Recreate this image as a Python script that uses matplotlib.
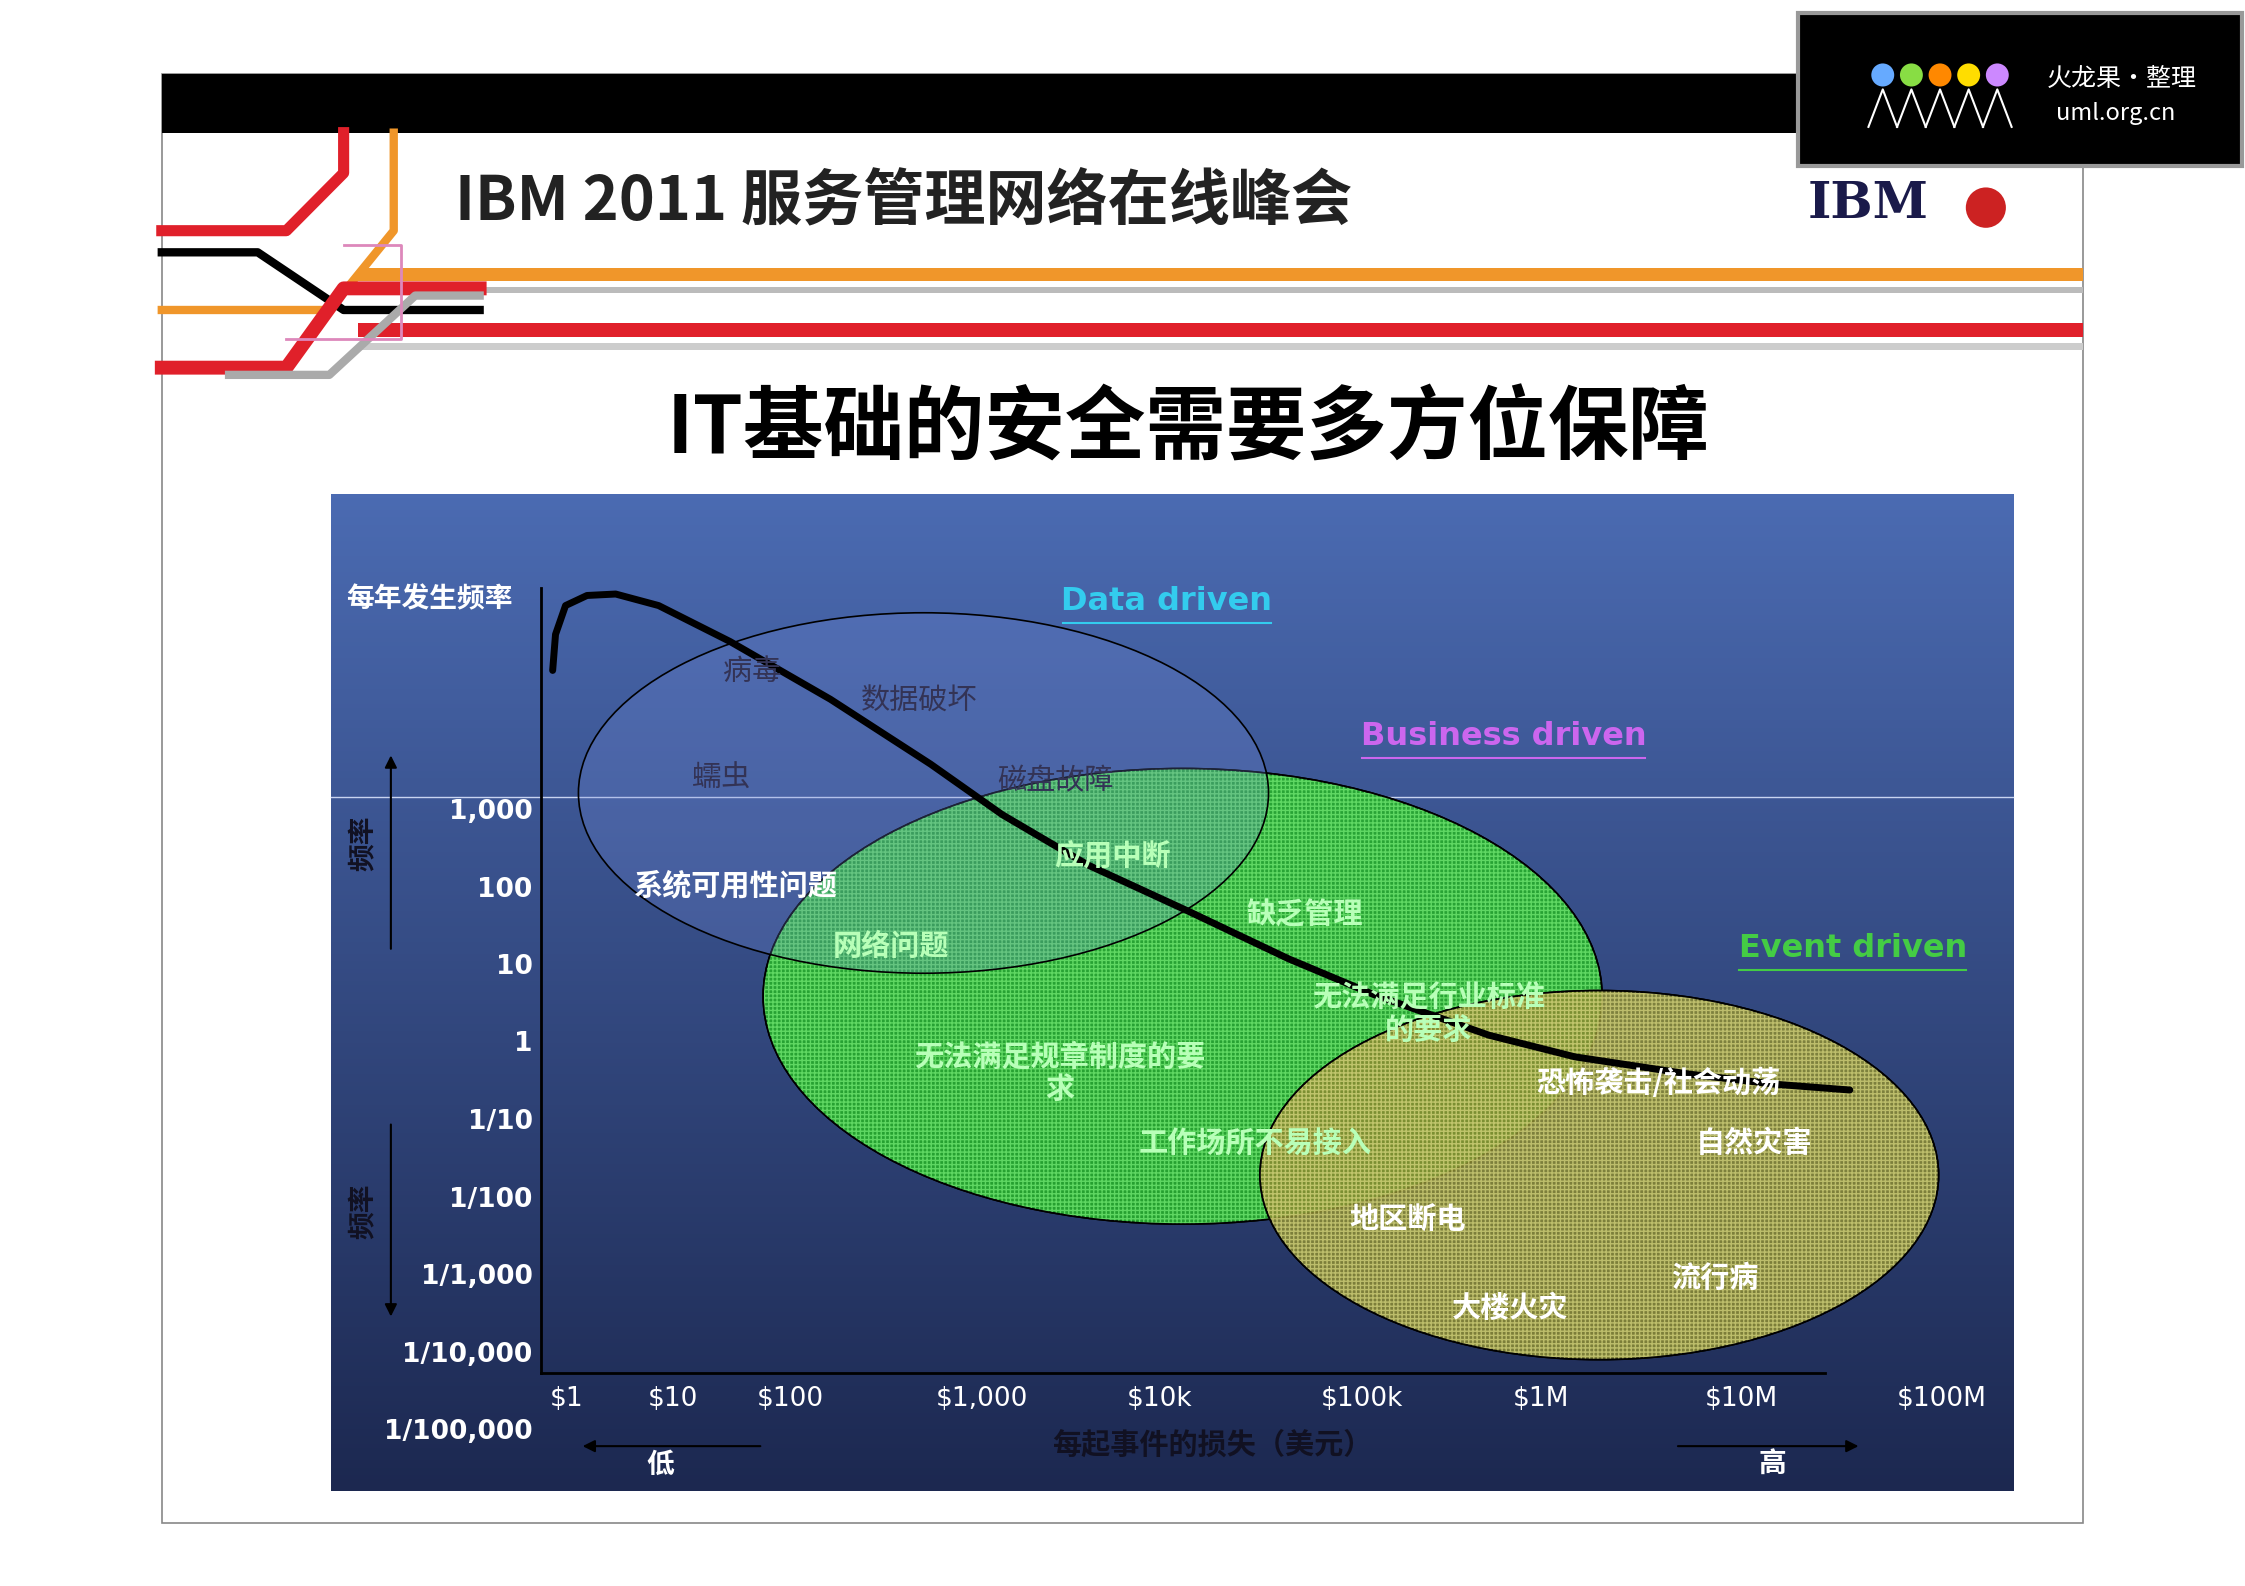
import numpy as np
import matplotlib
matplotlib.use("Agg")
import matplotlib.pyplot as plt
from matplotlib.patches import Ellipse, Rectangle

plt.rcParams['font.family'] = ['Noto Sans CJK SC', 'DejaVu Sans']

# ---- data (in slide pixel coordinates of the chart panel) ----
y_tick_labels = ["1,000", "100", "10", "1", "1/10", "1/100", "1/1,000", "1/10,000", "1/100,000"]
y_tick_pos = [563, 617, 671, 724, 778, 832, 886, 940, 993]
x_tick_labels = ["$1", "$10", "$100", "$1,000", "$10k", "$100k", "$1M", "$10M", "$100M"]
x_tick_pos = [396, 470, 552, 686, 810, 951, 1076, 1216, 1356]
curve_x = [386, 388, 395, 410, 430, 460, 510, 580, 650, 700, 760, 830, 900, 960, 1040, 1100, 1180, 1240, 1292]
curve_y = [465, 440, 420, 413, 412, 420, 445, 485, 530, 565, 600, 632, 665, 690, 718, 733, 745, 752, 756]
regions = ["Data driven", "Business driven", "Event driven"]
region_centers = [(645, 550), (826, 691), (1117, 815)]
region_sizes = [(482, 250), (586, 316), (474, 256)]
risk_labels = [("病毒", 525, 466, '#333355', 'normal'), ("数据破坏", 642, 487, '#333355', 'normal'),
               ("蠕虫", 504, 540, '#333355', 'normal'), ("磁盘故障", 737, 542, '#333355', 'normal'),
               ("系统可用性问题", 514, 614, 'white', 'bold'), ("应用中断", 777, 593, '#b8ffb8', 'bold'),
               ("网络问题", 622, 656, '#b8ffb8', 'bold'), ("缺乏管理", 911, 634, '#b8ffb8', 'bold'),
               ("无法满足行业标准\n的要求", 998, 703, '#b8ffb8', 'bold'),
               ("无法满足规章制度的要\n求", 740, 744, '#b8ffb8', 'bold'),
               ("恐怖袭击/社会动荡", 1158, 751, 'white', 'bold'), ("工作场所不易接入", 877, 793, '#b8ffb8', 'bold'),
               ("自然灾害", 1225, 793, 'white', 'bold'), ("地区断电", 983, 846, 'white', 'bold'),
               ("流行病", 1198, 886, 'white', 'bold'), ("大楼火灾", 1055, 907, 'white', 'bold')]

fig = plt.figure(figsize=(22.45, 15.86), dpi=100)
ax = fig.add_axes([0, 0, 1, 1])
ax.set_xlim(0, 1568); ax.set_ylim(1100, 0); ax.axis('off')

# slide frame
ax.add_patch(Rectangle((113, 51), 1342, 1005, fc='white', ec='#888888', lw=1.2, zorder=0))
ax.add_patch(Rectangle((113, 51), 1342, 41, fc='black', zorder=1))
# header stripes
ax.add_patch(Rectangle((250, 186), 1205, 9, fc='#f0962a', zorder=1))
ax.add_patch(Rectangle((250, 199), 1205, 4, fc='#bbbbbb', zorder=1))
ax.add_patch(Rectangle((250, 224), 1205, 10, fc='#e0202a', zorder=1))
ax.add_patch(Rectangle((250, 238), 1205, 5, fc='#cccccc', zorder=1))
# decorative lines left
ax.plot([113, 200, 240, 240], [160, 160, 120, 92], color='#e0202a', lw=8, zorder=2)
ax.plot([113, 230, 275, 275], [215, 215, 160, 92], color='#f0962a', lw=6, zorder=2)
ax.plot([113, 180, 240, 335], [175, 175, 215, 215], color='black', lw=6, zorder=2)
ax.plot([113, 200, 240, 335], [255, 255, 200, 200], color='#e0202a', lw=10, zorder=2)
ax.plot([160, 230, 290, 335], [260, 260, 205, 205], color='#aaaaaa', lw=6, zorder=2)
ax.plot([200, 280, 280, 240], [235, 235, 170, 170], color='#dd88bb', lw=2, zorder=2)
ax.text(318, 140, "IBM 2011 服务管理网络在线峰会", fontsize=44, fontweight='bold', va='center', ha='left', color='#222222', zorder=3)
ax.text(1305, 142, "IBM", fontsize=36, fontweight='bold', va='center', ha='center', color='#1a1a4a', family='DejaVu Serif', zorder=3)
ax.add_patch(Ellipse((1387, 144), 28, 28, fc='#cc2222', zorder=3))
# logo box
ax.add_patch(Rectangle((1256, 9), 310, 106, fc='black', ec='#999999', lw=3, zorder=3))
for cx, c in zip([1315, 1335, 1355, 1375, 1395], ['#66aaff', '#88dd44', '#ff8800', '#ffdd00', '#cc88ff']):
    ax.add_patch(Ellipse((cx, 52), 16, 16, fc=c, zorder=4))
    ax.plot([cx - 10, cx, cx + 10], [88, 62, 88], color='white', lw=1.5, zorder=4)
ax.text(1482, 55, "火龙果•整理", fontsize=18, color='white', ha='center', va='center', zorder=4)
ax.text(1478, 79, "uml.org.cn", fontsize=17, color='white', ha='center', va='center', zorder=4)

ax.text(830, 298, "IT基础的安全需要多方位保障", fontsize=58, fontweight='bold', ha='center', va='center', color='black')

# chart panel with gradient
grad = np.linspace(0, 1, 256).reshape(-1, 1)
top = np.array([0x4b, 0x6b, 0xb2]) / 255; bot = np.array([0x1c, 0x28, 0x50]) / 255
img = top + (bot - top) * grad[..., None]
ax.imshow(img, extent=(231, 1406, 1034, 343), aspect='auto', zorder=1)
ax.set_xlim(0, 1568); ax.set_ylim(1100, 0)
ax.plot([231, 1406], [553, 553], color='#c8d4f0', lw=1, zorder=2)

# ellipses
styles = [dict(fc=(0.45, 0.55, 0.85, 0.25), hatch=None),
          dict(fc=(0.15, 0.70, 0.15, 0.85), hatch='++'),
          dict(fc=(0.55, 0.55, 0.2, 0.85), hatch='++')]
hatch_cols = [None, '#77ee77', '#d8d880']
zo = [5, 3, 4]
for (c, (w, h), st, hc, z) in zip(region_centers, region_sizes, styles, hatch_cols, zo):
    ax.add_patch(Ellipse(c, w, h, fc=st['fc'], ec='black', lw=1.2, zorder=z))
    if st['hatch']:
        ax.add_patch(Ellipse(c, w, h, fc='none', ec=hc, lw=0, hatch=st['hatch'] * 2, zorder=z, alpha=0.7))
        ax.add_patch(Ellipse(c, w, h, fc='none', ec='black', lw=1.2, zorder=z))

# region titles
for name, (x, y), col in zip(regions, [(815, 417), (1050, 511), (1294, 658)], ['#33ccee', '#cc66ee', '#44cc44']):
    ax.text(x, y, name, fontsize=23, fontweight='bold', color=col, ha='center', va='center', family='DejaVu Sans', zorder=8)
    half = len(name) * 6.6
    ax.plot([x - half, x + half], [y + 15, y + 15], color=col, lw=1.5, zorder=8)

# labels
for s, x, y, col, wt in risk_labels:
    ax.text(x, y, s, fontsize=21, color=col, fontweight=wt, ha='center', va='center', zorder=7, linespacing=1.1)

# curve
ax.plot(curve_x, curve_y, color='black', lw=5, zorder=6, solid_capstyle='round')

# axes
ax.plot([378, 378], [408, 952], color='black', lw=2, zorder=6)
ax.plot([378, 1275], [952, 952], color='black', lw=2, zorder=6)
for s, y in zip(y_tick_labels, y_tick_pos):
    ax.text(372, y, s, fontsize=19, fontweight='bold', color='white', ha='right', va='center', family='DejaVu Sans', zorder=7)
for s, x in zip(x_tick_labels, x_tick_pos):
    ax.text(x, 970, s, fontsize=19, color='white', ha='center', va='center', family='DejaVu Sans', zorder=7)
ax.text(300, 415, "每年发生频率", fontsize=20, fontweight='bold', color='white', ha='center', va='center', zorder=7)
ax.text(847, 1002, "每起事件的损失（美元）", fontsize=21, fontweight='bold', style='italic', color='#111122', ha='center', va='center', zorder=7)
ax.text(461, 1016, "低", fontsize=20, fontweight='bold', color='white', ha='center', va='center', zorder=7)
ax.text(1238, 1016, "高", fontsize=20, fontweight='bold', color='white', ha='center', va='center', zorder=7)
ax.text(254, 585, "频率", fontsize=20, fontweight='bold', color='#111122', rotation=90, ha='center', va='center', zorder=7)
ax.text(254, 840, "频率", fontsize=20, fontweight='bold', color='#111122', rotation=90, ha='center', va='center', zorder=7)
arr = dict(arrowstyle='-|>', color='black', lw=1.5, mutation_scale=18)
ax.annotate("", xy=(273, 522), xytext=(273, 660), arrowprops=arr, zorder=7)
ax.annotate("", xy=(273, 915), xytext=(273, 778), arrowprops=arr, zorder=7)
ax.annotate("", xy=(405, 1003), xytext=(533, 1003), arrowprops=arr, zorder=7)
ax.annotate("", xy=(1300, 1003), xytext=(1170, 1003), arrowprops=arr, zorder=7)

fig.savefig("out.png", dpi=100)
